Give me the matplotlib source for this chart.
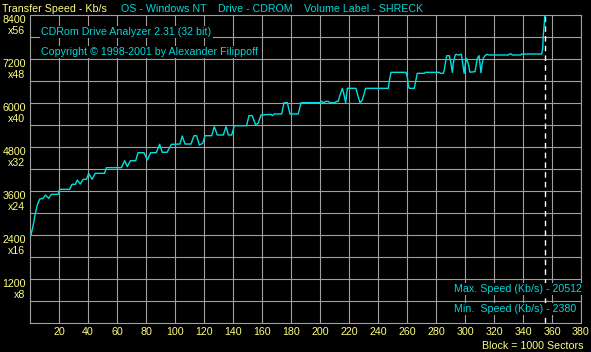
import matplotlib
matplotlib.use("Agg")
import matplotlib.pyplot as plt

# transfer speed trace (block no. -> Kb/s)
blocks = [0.5, 2, 3.7, 5, 6.7, 9, 10.6, 12.9, 14.7, 19.3, 20.5, 27.4, 29, 31.3,
          32.6, 34.7, 36.6, 38.9, 40.5, 42.8, 45, 51.5, 52.6, 63, 65.3, 67.1,
          69.2, 72.9, 74.5, 78.6, 80.9, 83.2, 87.1, 89.4, 91.2, 94.5, 97.5,
          103.4, 105, 106.9, 111, 113.1, 114.9, 116.8, 119.1, 120.7, 125.3,
          127.1, 129.2, 133.3, 135.2, 136.8, 139.1, 140.9, 149.4, 151, 153.3,
          155.6, 157.4, 159.3, 166.2, 167.1, 168.5, 173.6, 175.2, 177.5, 179.3,
          185, 186.9, 200, 201.1, 202.3, 204.1, 205.7, 206.9, 210.3, 211.5,
          212.6, 213.8, 215.4, 216.6, 217.7, 218.9, 224.8, 226, 227.6, 229.2,
          231.5, 247.1, 247.8, 249, 259.3, 260.2, 260.9, 261.6, 265, 266.2,
          267.1, 271.9, 272.6, 282.3, 283, 285, 285.7, 286.4, 287.4, 289.2,
          290.3, 291.3, 291.9, 293.1, 293.8, 295.4, 297.5, 298.4, 299.4, 300.3,
          301, 302.5, 303.4, 306.9, 307.6, 308.5, 309.7, 310.3, 311, 311.9,
          312.6, 313.8, 315, 316.8, 322.5, 329.9, 330.6, 332, 332.6, 338.4,
          339.1, 352.9, 353.6, 354, 354.7, 355.3]
speed = [2380, 2626, 2990, 3218, 3381, 3400, 3490, 3400, 3509, 3509, 3645, 3645,
         3782, 3782, 3900, 3790, 3918, 3918, 4082, 3918, 4082, 4082, 4236, 4236,
         4427, 4264, 4427, 4427, 4645, 4645, 4445, 4645, 4645, 4873, 4655, 4655,
         4873, 4881, 5100, 4881, 4881, 5108, 5108, 4854, 4900, 5108, 5108, 5354,
         5127, 5127, 5354, 5127, 5127, 5381, 5381, 5654, 5654, 5400, 5454, 5672,
         5690, 5654, 5700, 5700, 6009, 6009, 5700, 5700, 6009, 6009, 6045, 6009,
         6045, 6045, 6009, 6009, 6045, 6045, 6218, 6400, 6218, 6009, 6400, 6400,
         6218, 6009, 6082, 6400, 6400, 6609, 6836, 6836, 6718, 6472, 6400, 6400,
         6627, 6809, 6809, 6836, 6836, 6809, 6809, 6900, 7082, 7290, 7290, 7082,
         6836, 7082, 7290, 7327, 7309, 7327, 7082, 6809, 7082, 7218, 7036, 6840,
         6854, 7009, 7218, 7290, 7082, 6827, 7082, 7218, 7290, 7327, 7309, 7309,
         7309, 7336, 7336, 7309, 7309, 7336, 7336, 7490, 7854, 8173, 8600]

max_block = 355.3
y_ticks = [1200, 2400, 3600, 4800, 6000, 7200, 8400]
y_mult = ["x8", "x16", "x24", "x32", "x40", "x48", "x56"]
x_ticks = list(range(20, 400, 20))

header = [("Transfer Speed - Kb/s", 2, "yel"),
          ("OS - Windows NT", 121, "cyan"),
          ("Drive - CDROM", 218, "cyan"),
          ("Volume Label - SHRECK", 304, "cyan")]

W, H = 591, 352
YEL = "#ffff80"
CYAN = "#00d8d8"
GRID = "#a0a0a0"
FONT = "Liberation Sans"
FS = 7.7

plt.rcParams["font.family"] = FONT
fig = plt.figure(figsize=(W / 100, H / 100), dpi=100, facecolor="black")
ax = fig.add_axes([30 / W, (H - 323) / H, 551 / W, 308 / H], facecolor="black")

ax.axvline(max_block, color="white", lw=1.0, ls=(0, (4, 3)), zorder=2)
ax.plot(blocks, speed, color="#00e0e0", lw=1.0, zorder=3, clip_on=True)

ax.set_xlim(0, 380)
ax.set_ylim(0, 8400)
ax.set_xticks(x_ticks)
ax.set_xticklabels([str(t) for t in x_ticks])
ax.set_yticks(list(range(600, 8400, 600)))
ax.set_yticklabels([])
ax.grid(True, color=GRID, lw=0.8)
ax.set_axisbelow(True)
ax.tick_params(length=0, colors=YEL, labelsize=FS, pad=2.9)
for s in ax.spines.values():
    s.set_color(GRID)
    s.set_linewidth(0.8)

# two-line y labels sitting just under their gridline
for v, m in zip(y_ticks, y_mult):
    ax.annotate(str(v), (0, v), xycoords=("axes fraction", "data"),
                textcoords="offset pixels", xytext=(-4, -8), ha="right",
                va="baseline", color=YEL, fontsize=FS, annotation_clip=False)
    ax.annotate(m, (0, v), xycoords=("axes fraction", "data"),
                textcoords="offset pixels", xytext=(-5, -19), ha="right",
                va="baseline", color=YEL, fontsize=FS, annotation_clip=False)

for txt, x, c in header:
    fig.text(x / W, 1 - 12 / H, txt, color=YEL if c == "yel" else CYAN,
             fontsize=FS, va="baseline", ha="left")

box = dict(facecolor="black", edgecolor="none", pad=1.0)
fig.text(41 / W, 1 - 35 / H, "CDRom Drive Analyzer 2.31 (32 bit)", color=CYAN,
         fontsize=FS, va="baseline", bbox=box, zorder=5)
fig.text(41 / W, 1 - 55 / H, "Copyright \u00a9 1998-2001 by Alexander Filippoff",
         color=CYAN, fontsize=FS, va="baseline", bbox=box, zorder=5)
fig.text(454 / W, 1 - 292 / H, "Max. Speed (Kb/s) - 20512", color=CYAN,
         fontsize=FS, va="baseline", bbox=box, zorder=5)
fig.text(454 / W, 1 - 312 / H, "Min.  Speed (Kb/s) - 2380", color=CYAN,
         fontsize=FS, va="baseline", bbox=box, zorder=5)
fig.text(584 / W, 1 - 349 / H, "Block = 1000 Sectors", color=YEL,
         fontsize=FS, va="baseline", ha="right")

fig.savefig("out.png", dpi=100, facecolor="black")
